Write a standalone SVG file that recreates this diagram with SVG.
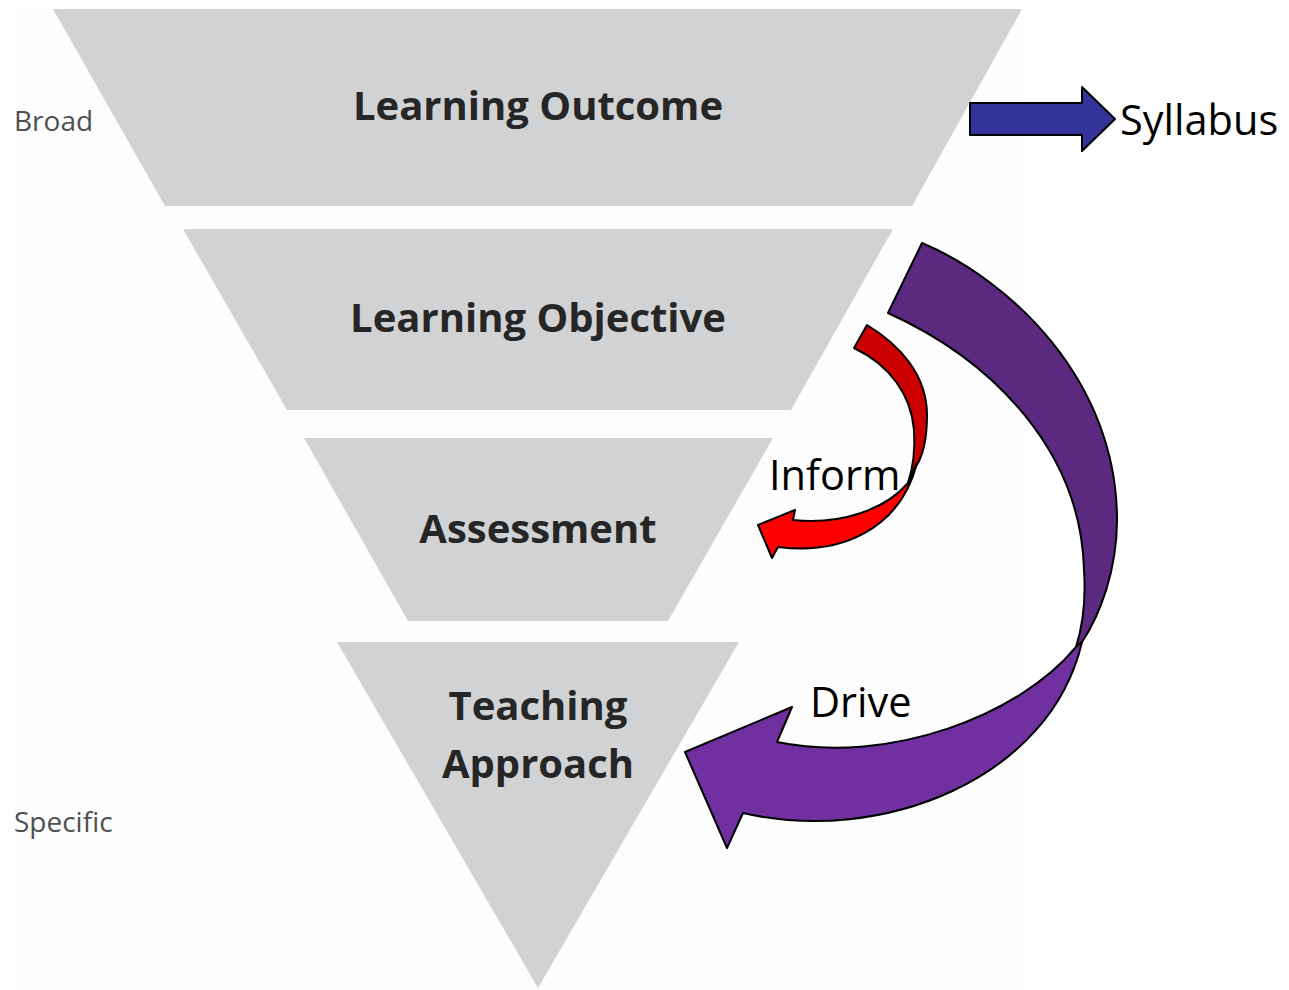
<svg xmlns="http://www.w3.org/2000/svg" width="1289" height="990" viewBox="0 0 1289 990">
  <style>
    .tier { fill: #d1d2d4; }
    .tier-label { font-family: "Open Sans", "Liberation Sans", sans-serif; font-weight: 700; font-size: 40px; fill: #262626; text-anchor: middle; }
    .side-label { font-family: "Open Sans", "Liberation Sans", sans-serif; font-size: 28px; fill: #505050; }
    .flow-label { font-family: "Open Sans", "Liberation Sans", sans-serif; font-size: 41.5px; fill: #000; }
    .outline { stroke: #000; stroke-width: 2; stroke-linejoin: round; }
  </style>

  <rect width="1289" height="990" fill="#ffffff"/>
  <!-- funnel backdrop -->
  <rect x="13" y="9" width="1012" height="981" fill="#fdfdfd"/>

  <!-- funnel tiers, broad to specific -->
  <g id="learning-outcome">
    <polygon class="tier" points="53,9 1022,9 912,206 165,206"/>
    <text class="tier-label" x="538" y="120">Learning Outcome</text>
  </g>
  <g id="learning-objective">
    <polygon class="tier" points="183,229 893,229 791,410 287,410"/>
    <text class="tier-label" x="538" y="332">Learning Objective</text>
  </g>
  <g id="assessment">
    <polygon class="tier" points="304,438 773,438 668,621 408,621"/>
    <text class="tier-label" x="538" y="543">Assessment</text>
  </g>
  <g id="teaching-approach">
    <polygon class="tier" points="337,642 739,642 538,988"/>
    <text class="tier-label" x="538" y="720">Teaching</text>
    <text class="tier-label" x="538" y="778">Approach</text>
  </g>

  <!-- scale labels -->
  <g id="broad">
    <text class="side-label" x="14" y="131">Broad</text>
  </g>
  <g id="specific">
    <text class="side-label" x="14" y="832">Specific</text>
  </g>

  <!-- syllabus target -->
  <g id="syllabus">
    <text class="flow-label" x="1120" y="135">Syllabus</text>
  </g>

  <!-- connectors -->
  <g id="connectors">
    <!-- block arrow to syllabus -->
    <polygon class="outline" fill="#333399" points="970,103 1082,103 1082,87 1115,119 1082,151 1082,135 970,135"/>

    <!-- Inform: curved arrow, back band then front band -->
    <path class="outline" fill="#cc0000" d="M854,348 L867,325 C900,345 927,375 927,415 C927,440 922,458 915,468 L908,483 C914,465 915,445 914,430 C911,395 890,365 854,348 Z"/>
    <path class="outline" fill="#ff0000" d="M908,483 C885,510 840,525 793,520 L795,510 L758,525 L772,558 L778,547 C840,555 900,530 917,463 Z"/>
    <text class="flow-label" x="769" y="490">Inform</text>

    <!-- Drive: curved arrow, back band then front band -->
    <path class="outline" fill="#5b2a80" d="M888,313 L922,243 C1010,280 1117,380 1117,520 C1117,570 1100,615 1082,642 L1076,647 C1083,625 1086,600 1084,570 C1081,450 992,360 888,313 Z"/>
    <path class="outline" fill="#7030a0" d="M1076,647 C1020,715 890,765 777,742 L792,707 L685,752 L727,848 L743,813 C880,845 1050,780 1082,642 Z"/>
    <text class="flow-label" x="810" y="717">Drive</text>
  </g>
</svg>
